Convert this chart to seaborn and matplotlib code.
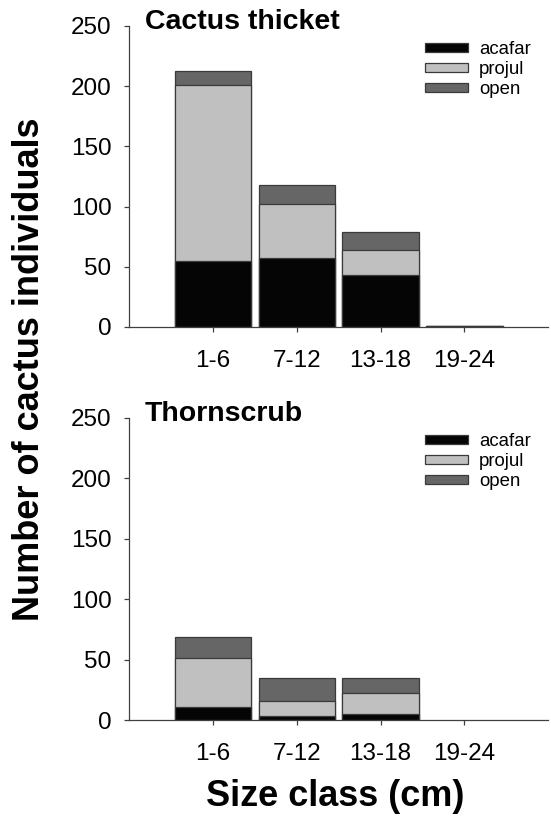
import matplotlib
matplotlib.use("Agg")
import matplotlib.pyplot as plt
import seaborn as sns
import numpy as np
from matplotlib.patches import Patch

size_classes = ["1-6", "7-12", "13-18", "19-24"]
species = ["acafar", "projul", "open"]

# Cactus thicket counts per size class
thicket_acafar = [55, 57, 43, 1]
thicket_projul = [146, 45, 21, 0]
thicket_open = [12, 16, 15, 0]

# Thornscrub counts per size class
thorn_acafar = [11, 3, 5, 0]
thorn_projul = [40, 13, 17, 0]
thorn_open = [18, 19, 13, 0]

colors = {"acafar": "#050505", "projul": "#c0c0c0", "open": "#666666"}
edge = "#3a3a3a"

sns.set_style("ticks")
plt.rcParams["font.family"] = ["Liberation Sans", "DejaVu Sans"]
plt.rcParams["text.color"] = "black"
plt.rcParams["axes.labelcolor"] = "black"


def stacked_panel(ax, acafar, projul, open_, title):
    layers = [np.array(acafar), np.array(projul), np.array(open_)]
    cum = np.cumsum(layers, axis=0)
    # draw tallest first so lower segments sit on top
    for i in reversed(range(3)):
        sns.barplot(x=size_classes, y=cum[i], color=colors[species[i]],
                    saturation=1, edgecolor=edge, linewidth=0.9,
                    width=0.91, ax=ax)
    # empty classes get no outline
    for p in ax.patches:
        if p.get_height() == 0:
            p.set_linewidth(0)
    ax.set_xlim(-1, 4)
    ax.set_ylim(0, 250)
    ax.set_yticks([0, 50, 100, 150, 200, 250])
    ax.set_xticks(range(4))
    ax.set_xticklabels(size_classes)
    ax.set_xlabel("")
    ax.set_ylabel("")
    sns.despine(ax=ax)
    for s in ["left", "bottom"]:
        ax.spines[s].set_color("#404040")
        ax.spines[s].set_linewidth(0.9)
    ax.tick_params(axis="both", labelsize=17.5, colors="#404040",
                   labelcolor="black", length=3.5, width=0.9)
    ax.tick_params(axis="x", pad=13)
    ax.tick_params(axis="y", pad=9)
    ax.text(0.038, 0.99, title, transform=ax.transAxes, fontsize=20.5,
            fontweight="bold", va="baseline", ha="left")
    handles = [Patch(facecolor=colors[s], edgecolor=edge, linewidth=0.9, label=s)
               for s in species]
    ax.legend(handles=handles, loc="upper left", bbox_to_anchor=(0.706, 0.95),
              frameon=False, fontsize=13.4, handlelength=2.3, handleheight=0.4,
              labelspacing=0.17, handletextpad=0.6, borderaxespad=0,
              borderpad=0)


fig = plt.figure(figsize=(5.51, 8.17), dpi=100)
ax1 = fig.add_axes([0.234, 0.5998, 0.761, 0.3684])
ax2 = fig.add_axes([0.234, 0.1187, 0.761, 0.3697])

stacked_panel(ax1, thicket_acafar, thicket_projul, thicket_open, "Cactus thicket")
stacked_panel(ax2, thorn_acafar, thorn_projul, thorn_open, "Thornscrub")

fig.text(0.054, 0.548, "Number of cactus individuals", rotation=90,
         fontsize=26, fontweight="bold", ha="center", va="center")
fig.text(0.608, 0.0245, "Size class (cm)", fontsize=26, fontweight="bold",
         ha="center", va="center")

fig.savefig("out.png", dpi=100)
